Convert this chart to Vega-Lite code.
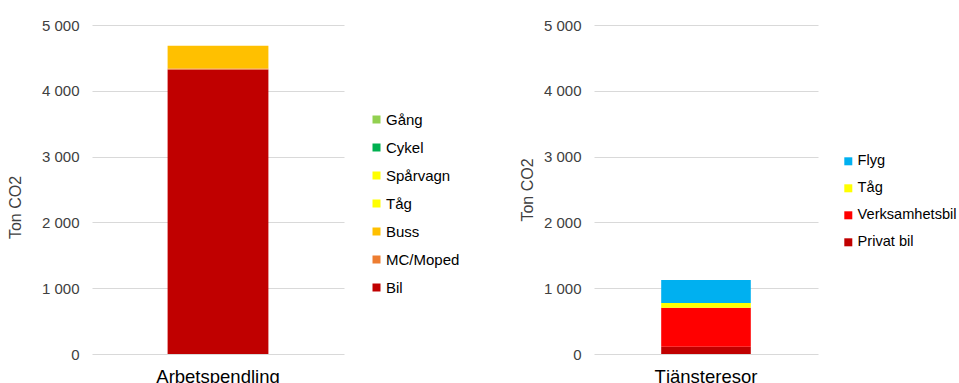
{
  "$schema": "https://vega.github.io/schema/vega-lite/v6.json",
  "padding": {"left": 7, "top": 18, "right": 0, "bottom": 0},
  "background": "white",
  "config": {
    "font": "Liberation Sans",
    "view": {"stroke": null},
    "axisY": {
      "domain": false, "ticks": false, "grid": true, "gridColor": "#d9d9d9", "gridWidth": 1,
      "labelFontSize": 15, "labelColor": "#404040", "labelPadding": 13,
      "titleFontSize": 16, "titleFontWeight": "normal", "titleColor": "#404040"
    },
    "axisX": {
      "domain": false, "ticks": false, "grid": false, "title": null,
      "labelFontSize": 18.5, "labelColor": "#000000", "labelPadding": 13, "labelAngle": 0
    },
    "legend": {
      "orient": "none", "title": null, "symbolType": "square", "symbolSize": 64,
      "symbolStrokeWidth": 0, "labelFontSize": 15, "labelColor": "#000000",
      "rowPadding": 12, "labelOffset": 2, "padding": 0
    }
  },
  "hconcat": [
    {
      "width": 252, "height": 329,
      "data": {"values": [
        {"kategori": "Arbetspendling", "slag": "Bil", "ordning": 1, "ton": 4324},
        {"kategori": "Arbetspendling", "slag": "MC/Moped", "ordning": 2, "ton": 15},
        {"kategori": "Arbetspendling", "slag": "Buss", "ordning": 3, "ton": 347},
        {"kategori": "Arbetspendling", "slag": "Tåg", "ordning": 4, "ton": 0},
        {"kategori": "Arbetspendling", "slag": "Spårvagn", "ordning": 5, "ton": 0},
        {"kategori": "Arbetspendling", "slag": "Cykel", "ordning": 6, "ton": 0},
        {"kategori": "Arbetspendling", "slag": "Gång", "ordning": 7, "ton": 0}
      ]},
      "mark": {"type": "bar"},
      "encoding": {
        "x": {"field": "kategori", "type": "nominal", "scale": {"paddingInner": 0, "paddingOuter": 0.75}},
        "y": {"field": "ton", "type": "quantitative", "stack": "zero", "scale": {"domain": [0, 5000]},
              "axis": {"title": "Ton CO2", "titlePadding": 18, "titleY": 182,
                       "values": [0, 1000, 2000, 3000, 4000, 5000],
                       "labelExpr": "replace(format(datum.value, ','), ',', ' ')"}},
        "color": {"field": "slag", "type": "nominal",
          "scale": {"domain": ["Gång", "Cykel", "Spårvagn", "Tåg", "Buss", "MC/Moped", "Bil"],
                    "range": ["#92d050", "#00b050", "#ffff00", "#ffff00", "#ffc000", "#ed7d31", "#c00000"]},
          "legend": {"legendX": 277, "legendY": 87}},
        "order": {"field": "ordning", "type": "quantitative"}
      }
    },
    {
      "width": 224, "height": 329,
      "data": {"values": [
        {"kategori": "Tjänsteresor", "slag": "Privat bil", "ordning": 1, "ton": 111},
        {"kategori": "Tjänsteresor", "slag": "Verksamhetsbil", "ordning": 2, "ton": 593},
        {"kategori": "Tjänsteresor", "slag": "Tåg", "ordning": 3, "ton": 71},
        {"kategori": "Tjänsteresor", "slag": "Flyg", "ordning": 4, "ton": 350}
      ]},
      "mark": {"type": "bar"},
      "encoding": {
        "x": {"field": "kategori", "type": "nominal", "scale": {"paddingInner": 0, "paddingOuter": 0.75}},
        "y": {"field": "ton", "type": "quantitative", "stack": "zero", "scale": {"domain": [0, 5000]},
              "axis": {"title": "Ton CO2", "titlePadding": 8,
                       "values": [0, 1000, 2000, 3000, 4000, 5000],
                       "labelExpr": "replace(format(datum.value, ','), ',', ' ')"}},
        "color": {"field": "slag", "type": "nominal",
          "scale": {"domain": ["Flyg", "Tåg", "Verksamhetsbil", "Privat bil"],
                    "range": ["#00b0f0", "#ffff00", "#ff0000", "#c00000"]},
          "legend": {"legendX": 247, "legendY": 129, "labelFontSize": 14.6}},
        "order": {"field": "ordning", "type": "quantitative"}
      }
    }
  ],
  "resolve": {"scale": {"color": "independent", "y": "independent", "x": "independent"}, "legend": {"color": "independent"}},
  "spacing": 59
}
